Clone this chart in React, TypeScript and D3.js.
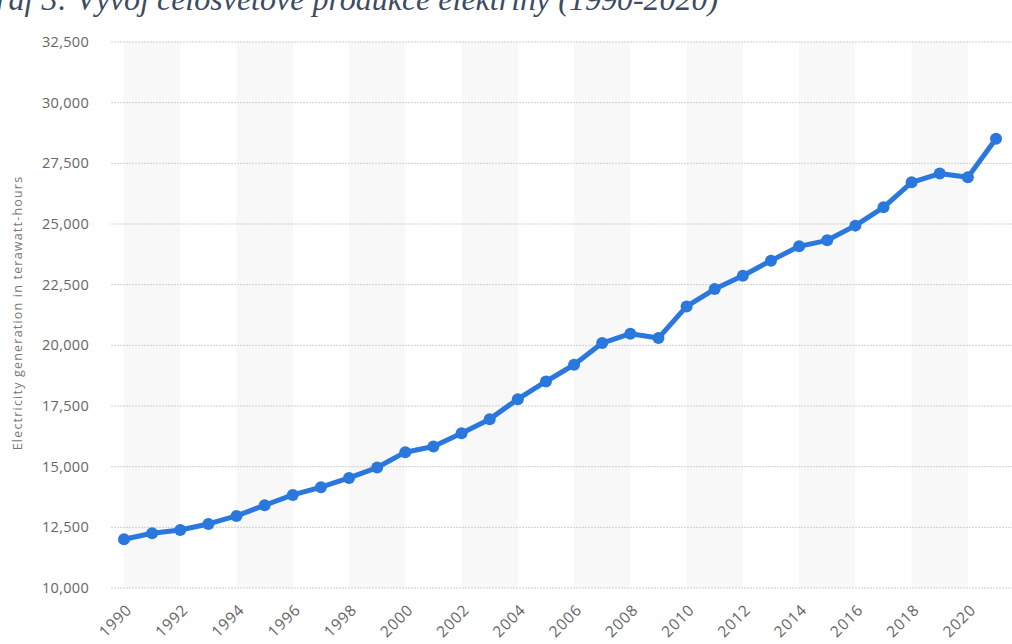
import React from "react";
import * as d3 from "d3";

const years: number[] = [
  1990, 1991, 1992, 1993, 1994, 1995, 1996, 1997, 1998, 1999, 2000, 2001, 2002,
  2003, 2004, 2005, 2006, 2007, 2008, 2009, 2010, 2011, 2012, 2013, 2014, 2015,
  2016, 2017, 2018, 2019, 2020, 2021,
];
const generation: number[] = [
  12010, 12256, 12393, 12640, 12970, 13411, 13836, 14153, 14537, 14963, 15597,
  15829, 16380, 16958, 17783, 18510, 19199, 20094, 20478, 20300, 21604, 22321,
  22870, 23489, 24079, 24327, 24933, 25687, 26719, 27078, 26925, 28509,
];
const yTicks: number[] = [10000, 12500, 15000, 17500, 20000, 22500, 25000, 27500, 30000, 32500];
const xTicks: number[] = [1990, 1992, 1994, 1996, 1998, 2000, 2002, 2004, 2006, 2008, 2010, 2012, 2014, 2016, 2018, 2020];
const bandStarts: number[] = [1990, 1994, 1998, 2002, 2006, 2010, 2014, 2018];

const title = "Graf 3: Vývoj celosvětové produkce elektřiny (1990-2020)";
const yTitle = "Electricity generation in terawatt-hours";

export default function App() {
  const W = 1012;
  const H = 644;
  const x = d3.scaleLinear().domain([1990, 2021]).range([124, 996]);
  const y = d3.scaleLinear().domain([10000, 32500]).range([588, 42]);
  const fmt = d3.format(",");
  const pts = years.map((yr, i) => [yr, generation[i]] as [number, number]);
  const line = d3
    .line<[number, number]>()
    .x((d) => x(d[0]))
    .y((d) => y(d[1]));

  const labelFont = "'Open Sans', sans-serif";
  const color = "#2a77dd";

  return (
    <svg
      width={W}
      height={H}
      style={{ position: "absolute", left: 0, top: 0, background: "#fff" }}
    >
      {bandStarts.map((b) => (
        <rect
          key={b}
          x={x(b)}
          y={y(32500)}
          width={x(b + 2) - x(b)}
          height={y(10000) - y(32500)}
          fill="#f8f8f8"
        />
      ))}
      {yTicks.map((t) => (
        <g key={t}>
          <line
            x1={111}
            x2={W}
            y1={y(t)}
            y2={y(t)}
            stroke="#cfcfcf"
            strokeWidth={1}
            strokeDasharray="2,1"
          />
          <text
            x={89}
            y={y(t)}
            dy="0.35em"
            textAnchor="end"
            fontFamily={labelFont}
            fontSize={14.5}
            letterSpacing={0.3}
            fill="#666"
          >
            {fmt(t)}
          </text>
        </g>
      ))}
      {xTicks.map((t) => (
        <text
          key={t}
          transform={`translate(${x(t) + 5},${607}) rotate(-45)`}
          textAnchor="end"
          dy="0.35em"
          fontFamily={labelFont}
          fontSize={15.5}
          letterSpacing={0.8}
          fill="#666"
        >
          {t}
        </text>
      ))}
      <text
        transform={`translate(18,${313}) rotate(-90)`}
        textAnchor="middle"
        dy="0.35em"
        fontFamily={labelFont}
        fontSize={12.5}
        letterSpacing={1.2}
        fill="#777"
      >
        {yTitle}
      </text>
      <path d={line(pts) || ""} fill="none" stroke={color} strokeWidth={5} strokeLinejoin="round" />
      {pts.map((p) => (
        <circle key={p[0]} cx={x(p[0])} cy={y(p[1])} r={6} fill={color} />
      ))}
      <text
        x={-27}
        y={10}
        fontFamily="'Liberation Serif', serif"
        fontStyle="italic"
        fontSize={32}
        fill="#3d4b63"
      >
        {title}
      </text>
    </svg>
  );
}
